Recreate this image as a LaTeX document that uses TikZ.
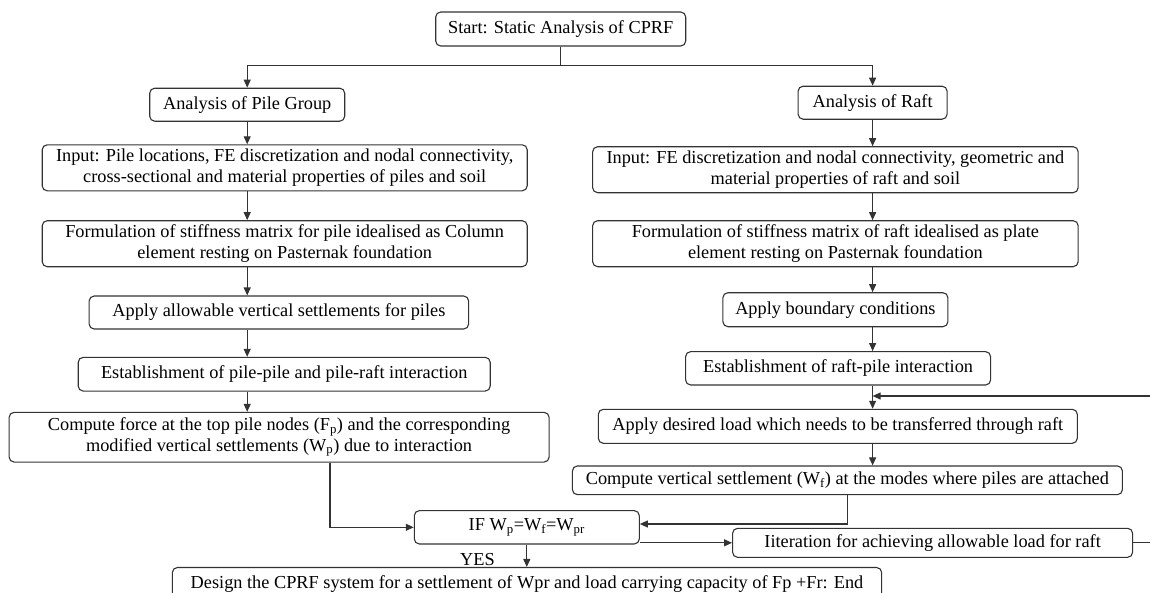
\documentclass[tikz,border=0pt]{standalone}
\usepackage{fontspec}
\setmainfont{Liberation Serif}
\usetikzlibrary{positioning,arrows.meta}

\begin{document}
\begin{tikzpicture}[
  x=1pt, y=-1pt,
  >={Triangle[length=8pt,width=7pt]},
  line width=1.1pt,
  flowbox/.style={draw=black!80,rounded corners=5pt,align=center,inner sep=0pt,
    font=\fontsize{18.3}{20.5}\selectfont},
  link/.style={draw=black!80,->},
]
\useasboundingbox (0,0) rectangle (1150,592);
\clip (0,0) rectangle (1150,592);

\node[flowbox,minimum width=250pt,minimum height=34pt] (start) at (560.7,29) {Start: Static Analysis of CPRF};
\node[flowbox,minimum width=195pt,minimum height=33pt] (pile) at (247.2,104.7) {Analysis of Pile Group};
\node[flowbox,minimum width=149pt,minimum height=33pt] (raft) at (872.6,102.7) {Analysis of Raft};

% pile group branch
\node[flowbox,minimum width=485pt,minimum height=46pt] (inpile) at (284.7,167.8)
  {Input: Pile locations, FE discretization and nodal connectivity,\\cross-sectional and material properties of piles and soil};
\node[flowbox,minimum width=485pt,minimum height=46pt] (kpile) at (284.7,243.7)
  {Formulation of stiffness matrix for pile idealised as Column\\element resting on Pasternak foundation};
\node[flowbox,minimum width=379.5pt,minimum height=33pt] (setpile) at (278.9,312.5) {Apply allowable vertical settlements for piles};
\node[flowbox,minimum width=412pt,minimum height=33.7pt] (intpile) at (284.2,374.2) {Establishment of pile-pile and pile-raft interaction};
\node[flowbox,minimum width=540pt,minimum height=49.7pt] (fpile) at (279.1,437.2)
  {Compute force at the top pile nodes (F\textsubscript{p}) and the corresponding\\modified vertical settlements (W\textsubscript{p}) due to interaction};

% raft branch
\node[flowbox,minimum width=485.5pt,minimum height=46pt] (inraft) at (835.4,169.7)
  {Input: FE discretization and nodal connectivity, geometric and\\material properties of raft and soil};
\node[flowbox,minimum width=485.5pt,minimum height=46pt] (kraft) at (835.4,243.7)
  {Formulation of stiffness matrix of raft idealised as plate\\element resting on Pasternak foundation};
\node[flowbox,minimum width=225pt,minimum height=34pt] (bcraft) at (835.4,309.7) {Apply boundary conditions};
\node[flowbox,minimum width=305pt,minimum height=33.3pt] (intraft) at (838.1,368.3) {Establishment of raft-pile interaction};
\node[flowbox,minimum width=479pt,minimum height=34pt] (loadraft) at (837.8,426.3) {Apply desired load which needs to be transferred through raft};
\node[flowbox,minimum width=550pt,minimum height=28.7pt] (wraft) at (847.4,480.3)
  {Compute vertical settlement (W\textsubscript{f}) at the modes where piles are attached};

% check and end
\node[flowbox,minimum width=225pt,minimum height=33.3pt] (check) at (526.8,527.3)
  {IF W\textsubscript{p}=W\textsubscript{f}=W\textsubscript{pr}};
\node[flowbox,minimum width=400pt,minimum height=29pt] (iter) at (932.6,542.8) {Iiteration for achieving allowable load for raft};
\node[flowbox,minimum width=709.3pt,minimum height=34pt] (design) at (527,584.5)
  {Design the CPRF system for a settlement of Wpr and load carrying capacity of Fp +Fr: End};
\node[font=\fontsize{18.3}{20.5}\selectfont,inner sep=0pt] (yes) at (477.5,560) {YES};

\coordinate (split) at (start.south |- 0,65.3);
\coordinate (back) at (1165,396);

\draw[draw=black!80] (start.south) -- (split);
\draw[link] (split) -| (pile.north);
\draw[link] (split) -| (raft.north);

\path (pile.south) edge[link] (pile.south |- inpile.north)
(pile.south |- inpile.south) edge[link] (pile.south |- kpile.north)
(pile.south |- kpile.south) edge[link] (pile.south |- setpile.north)
(pile.south |- setpile.south) edge[link] (pile.south |- intpile.north)
(pile.south |- intpile.south) edge[link] (pile.south |- fpile.north)
;
\path (raft.south) edge[link] (raft.south |- inraft.north)
(raft.south |- inraft.south) edge[link] (raft.south |- kraft.north)
(raft.south |- kraft.south) edge[link] (raft.south |- bcraft.north)
(raft.south |- bcraft.south) edge[link] (raft.south |- intraft.north)
(raft.south |- intraft.south) edge[link] (raft.south |- loadraft.north)
(raft.south |- loadraft.south) edge[link] (raft.south |- wraft.north)
;

\draw[link] ([xshift=50.9pt]fpile.south) |- (check.west);
\draw[link] (wraft.south) |- ([yshift=3.3pt]check.east);
\draw[link] (check.east |- iter.west) -- (iter.west);
\draw[link] (check.south) -- (check.south |- design.north);
\draw[link] (iter.east) -- (iter.east -| back) -- (back) -- (back -| raft.south);
\end{tikzpicture}
\end{document}
